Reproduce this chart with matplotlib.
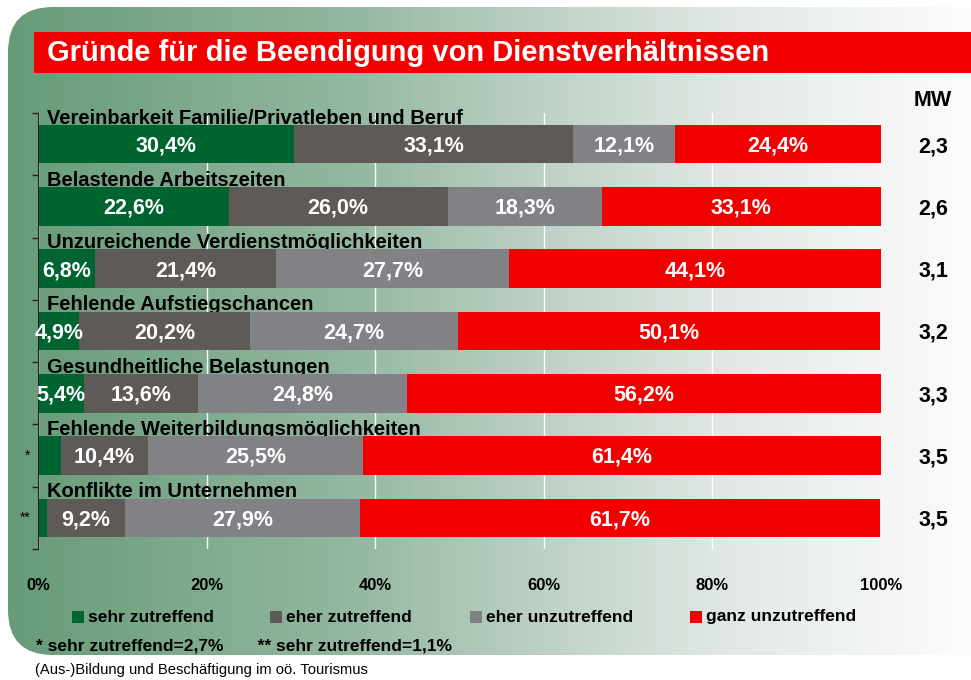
import numpy as np
import matplotlib
matplotlib.use("Agg")
import matplotlib.pyplot as plt
from matplotlib.colors import LinearSegmentedColormap
from matplotlib.patches import FancyBboxPatch, Rectangle
from matplotlib.transforms import blended_transform_factory

plt.rcParams['font.family'] = ['Liberation Sans', 'DejaVu Sans']

title = "Gründe für die Beendigung von Dienstverhältnissen"
categories = ["Vereinbarkeit Familie/Privatleben und Beruf",
              "Belastende Arbeitszeiten",
              "Unzureichende Verdienstmöglichkeiten",
              "Fehlende Aufstiegschancen",
              "Gesundheitliche Belastungen",
              "Fehlende Weiterbildungsmöglichkeiten",
              "Konflikte im Unternehmen"]
series_names = ["sehr zutreffend", "eher zutreffend",
                "eher unzutreffend", "ganz unzutreffend"]
sehr_zu = [30.4, 22.6, 6.8, 4.9, 5.4, 2.7, 1.1]
eher_zu = [33.1, 26.0, 21.4, 20.2, 13.6, 10.4, 9.2]
eher_unzu = [12.1, 18.3, 27.7, 24.7, 24.8, 25.5, 27.9]
ganz_unzu = [24.4, 33.1, 44.1, 50.1, 56.2, 61.4, 61.7]
mw = [2.3, 2.6, 3.1, 3.2, 3.3, 3.5, 3.5]
stars = ["", "", "", "", "", "*", "**"]
footnote = "* sehr zutreffend=2,7%       ** sehr zutreffend=1,1%"
source = "(Aus-)Bildung und Beschäftigung im oö. Tourismus"

colors = ["#006431", "#5e5a58", "#808285", "#f20000"]

W, H = 971, 680
fig = plt.figure(figsize=(W / 100, H / 100), dpi=100)

# background layer in pixel coordinates
bg = fig.add_axes([0, 0, 1, 1], zorder=-1)
bg.set_xlim(0, W)
bg.set_ylim(H, 0)
bg.axis("off")

cmap = LinearSegmentedColormap.from_list(
    "bg", [(0.0, "#679b78"), (0.35, "#93b7a0"), (0.55, "#bcd0c4"),
           (0.75, "#e2e9e5"), (1.0, "#fcfcfc")])
grad = np.tile(np.linspace(0, 1, 256), (2, 1))
img = bg.imshow(grad, cmap=cmap, aspect="auto", extent=[8, W, 655, 7])
box = FancyBboxPatch((8, 7), W + 60, 648,
                     boxstyle="round,pad=0,rounding_size=45",
                     transform=bg.transData, facecolor="none", edgecolor="none")
bg.add_patch(box)
img.set_clip_path(box)

bg.add_patch(Rectangle((34, 32), W - 34, 41, facecolor="#f20000", edgecolor="none"))
bg.text(47, 53, title, color="white", fontsize=21, fontweight="bold",
        va="center", ha="left")

bg.text(933, 101, "MW", fontsize=15.5, fontweight="bold", ha="center", va="center")

# legend row
leg_x = [72, 270, 470, 690]
for x, name, c in zip(leg_x, series_names, colors):
    bg.add_patch(Rectangle((x, 611), 12, 12, facecolor=c, edgecolor="none"))
    bg.text(x + 16, 617, name, fontsize=12.5, fontweight="bold", va="center", ha="left")

bg.text(36, 646, footnote, fontsize=12.5, fontweight="bold", va="center", ha="left")
bg.text(35, 670, source, fontsize=10.6, va="center", ha="left")

# stacked bars
ax = fig.add_axes([38 / W, 1 - 549 / H, 843 / W, 436 / H])
ax.patch.set_alpha(0)
y = np.arange(len(categories))
left = np.zeros(len(categories))
for vals, c in zip([sehr_zu, eher_zu, eher_unzu, ganz_unzu], colors):
    vals = np.array(vals)
    ax.barh(y, vals, left=left, height=0.62, color=c, zorder=2)
    for yi, l, v in zip(y, left, vals):
        if v >= 4:
            ax.text(l + v / 2, yi + 0.03, f"{v:.1f}%".replace(".", ","),
                    color="white", fontsize=15.5, fontweight="bold",
                    ha="center", va="center", zorder=3)
    left += vals

# category names sit on top of each bar, descenders hidden by it
for yi, cat in enumerate(categories):
    ax.text(1.1, yi - 0.33, cat, fontsize=14.5, fontweight="bold",
            ha="left", va="baseline", zorder=1)
    if stars[yi]:
        ax.text(-0.9, yi, stars[yi], fontsize=10, ha="right", va="center")

trans = blended_transform_factory(ax.transAxes, ax.transData)
for yi, m in enumerate(mw):
    ax.text(1.0617, yi + 0.04, f"{m:.1f}".replace(".", ","), transform=trans,
            fontsize=15.5, fontweight="bold", ha="center", va="center")

ax.set_xlim(0, 100)
ax.set_ylim(len(categories) - 0.5, -0.5)
ax.set_xticks([0, 20, 40, 60, 80, 100])
ax.set_xticklabels(["0%", "20%", "40%", "60%", "80%", "100%"],
                   fontsize=12, fontweight="bold")
ax.tick_params(axis="x", length=0, pad=21)
ax.set_yticks(np.arange(-0.5, len(categories)))
ax.set_yticklabels([])
ax.tick_params(axis="y", length=4, width=1, color="#222222", direction="out")
ax.grid(axis="x", color="white", linewidth=1, zorder=0)
ax.set_axisbelow(True)
for s in ["top", "right", "bottom"]:
    ax.spines[s].set_visible(False)
ax.spines["left"].set_color("#222222")

fig.savefig("out.png", dpi=100)
